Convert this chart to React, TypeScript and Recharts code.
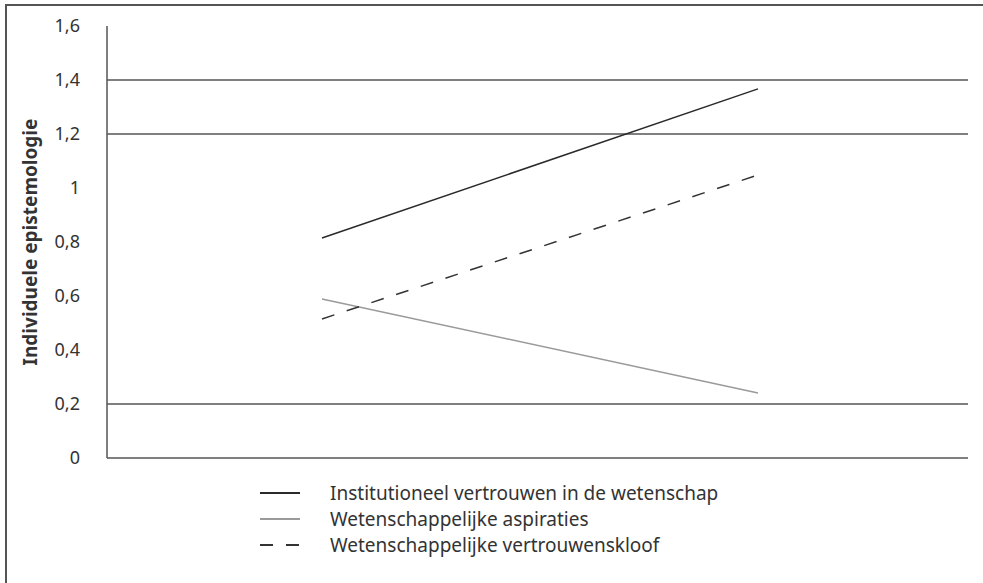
import { LineChart, Line, XAxis, YAxis, ReferenceLine } from "recharts";

const categories = ["laag", "hoog"];
const institutioneel = [0.815, 1.367];
const aspiraties = [0.589, 0.241];
const kloof = [0.515, 1.048];
const yTicks = [0, 0.2, 0.4, 0.6, 0.8, 1, 1.2, 1.4, 1.6];
const gridValues = [0, 0.2, 1.2, 1.4];

const seriesInfo = [
  { key: "institutioneel", name: "Institutioneel vertrouwen in de wetenschap", color: "#2a2a2a", dash: undefined },
  { key: "aspiraties", name: "Wetenschappelijke aspiraties", color: "#9a9a9a", dash: undefined },
  { key: "kloof", name: "Wetenschappelijke vertrouwenskloof", color: "#333333", dash: "13 13" },
];

const data = categories.map((c, i) => ({
  cat: c,
  institutioneel: institutioneel[i],
  aspiraties: aspiraties[i],
  kloof: kloof[i],
}));

const font = "'Noto Sans', 'Open Sans', sans-serif";

const LegendBox = () => (
  <div style={{ position: "absolute", left: 260, top: 480, fontFamily: font, fontSize: 19, color: "#333" }}>
    {seriesInfo.map((s) => (
      <div key={s.key} style={{ display: "flex", alignItems: "center", height: 26 }}>
        <svg width={40} height={4} style={{ marginRight: 30 }}>
          <line x1={0} y1={2} x2={40} y2={2} stroke={s.color} strokeWidth={2} strokeDasharray={s.dash} />
        </svg>
        <span>{s.name}</span>
      </div>
    ))}
  </div>
);

const App = () => {
  return (
    <div style={{ position: "absolute", left: 0, top: 0, width: 983, height: 583, background: "#fff" }}>
      <div
        style={{
          position: "absolute",
          left: 5,
          top: 4,
          width: 978,
          height: 579,
          borderTop: "2px solid #555",
          borderLeft: "2px solid #555",
        }}
      />
      <LineChart
        width={983}
        height={583}
        data={data}
        margin={{ top: 26, right: 15, bottom: 125, left: 5 }}
        style={{ fontFamily: font }}
      >
        {gridValues.map((v) => (
          <ReferenceLine key={v} y={v} stroke="#555" strokeWidth={1.5} />
        ))}
        <XAxis
          dataKey="cat"
          hide
          padding={{ left: 215, right: 210 }}
        />
        <YAxis
          width={102}
          domain={[0, 1.6]}
          ticks={yTicks}
          interval={0}
          tickSize={0}
          tickMargin={27}
          tickLine={false}
          axisLine={{ stroke: "#555", strokeWidth: 1.5 }}
          tick={{ fill: "#333", fontSize: 18 }}
          tickFormatter={(v: number) => String(v).replace(".", ",")}
          label={{
            value: "Individuele epistemologie",
            angle: -90,
            position: "insideLeft",
            offset: 25,
            style: { textAnchor: "middle", fontWeight: 700, fontSize: 19, fill: "#333" },
          }}
        />
        {seriesInfo.map((s) => (
          <Line
            key={s.key}
            dataKey={s.key}
            name={s.name}
            stroke={s.color}
            strokeWidth={1.5}
            strokeDasharray={s.dash}
            dot={false}
            activeDot={false}
            isAnimationActive={false}
          />
        ))}
      </LineChart>
      <LegendBox />
    </div>
  );
};

export default App;
